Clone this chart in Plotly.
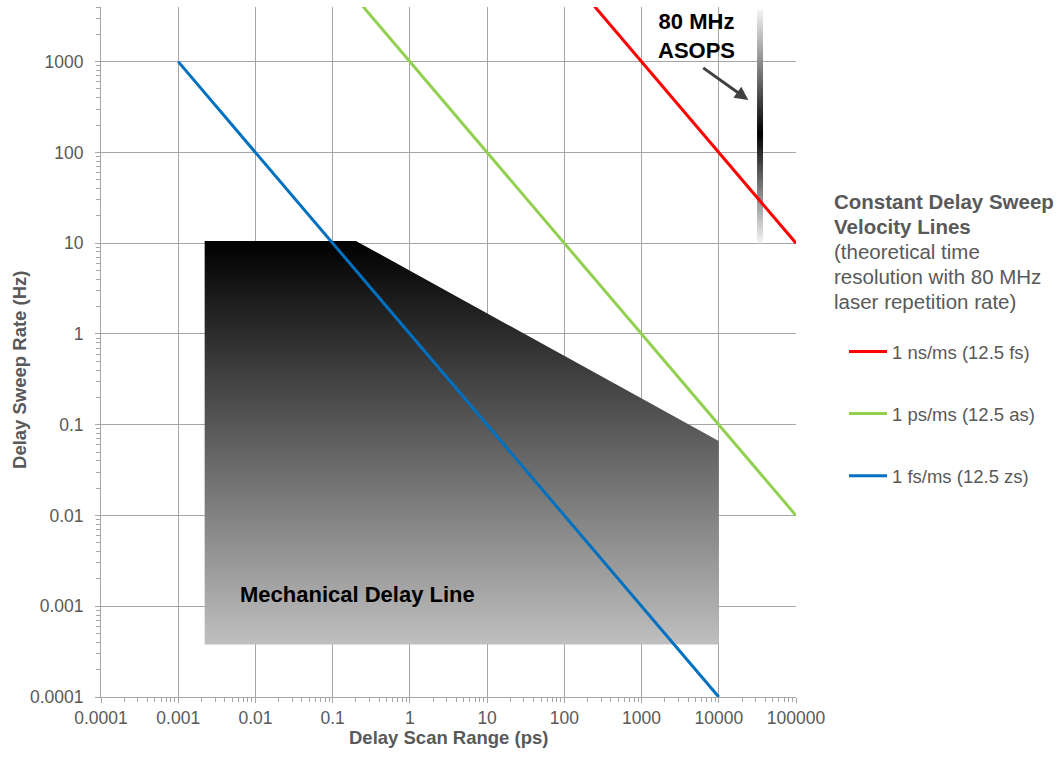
import numpy as np
import plotly.graph_objects as go

# Axis ticks (log scales)
x_tick_vals = [1e-4, 1e-3, 1e-2, 1e-1, 1, 10, 100, 1000, 10000, 100000]
x_tick_text = ["0.0001", "0.001", "0.01", "0.1", "1", "10", "100", "1000", "10000", "100000"]
y_tick_vals = [1e-4, 1e-3, 1e-2, 1e-1, 1, 10, 100, 1000]
y_tick_text = ["0.0001", "0.001", "0.01", "0.1", "1", "10", "100", "1000"]

# Constant delay sweep velocity lines: scan range (ps) vs sweep rate (Hz)
velocity_names = ["1 ns/ms (12.5 fs)", "1 ps/ms (12.5 as)", "1 fs/ms (12.5 zs)"]
velocity_colors = ["#ff0000", "#92d050", "#0070c0"]
ns_line_x = [100, 100000]
ns_line_y = [10000, 10]
ps_line_x = [0.1, 100000]
ps_line_y = [10000, 0.01]
fs_line_x = [0.001, 10000]
fs_line_y = [1000, 0.0001]

# Mechanical delay line operating region
mech_x = [0.0022, 0.2, 10000, 10000, 0.0022]
mech_y = [10.6, 10.6, 0.066, 0.00038, 0.00038]

# 80 MHz ASOPS band
asops_x = [31300, 37400, 37400, 31300]
asops_y = [10, 10, 3750, 3750]

GRID = "#a6a6a6"
TEXT = "#595959"
FONT = "Arial, Liberation Sans, sans-serif"

fig = go.Figure()

fig.add_trace(go.Scatter(
    x=mech_x, y=mech_y, mode="lines", fill="toself",
    line=dict(width=0, color="rgba(0,0,0,0)"),
    fillgradient=dict(type="vertical", colorscale=[[0, "#bfbfbf"], [1, "#000000"]]),
    showlegend=False, hoverinfo="skip",
))

fig.add_trace(go.Scatter(
    x=asops_x, y=asops_y, mode="lines", fill="toself",
    line=dict(width=0, color="rgba(0,0,0,0)"),
    fillgradient=dict(type="vertical",
                      colorscale=[[0, "#f4f4f4"], [0.47, "#000000"], [1, "#f4f4f4"]]),
    showlegend=False, hoverinfo="skip",
))

for name, color, xs, ys in zip(
        velocity_names, velocity_colors,
        [ns_line_x, ps_line_x, fs_line_x], [ns_line_y, ps_line_y, fs_line_y]):
    fig.add_trace(go.Scatter(
        x=xs, y=ys, mode="lines", name=name, legendgroup=name,
        line=dict(color=color, width=3),
    ))

axis_common = dict(
    type="log", showgrid=True, gridcolor=GRID, gridwidth=1,
    showline=True, linecolor=GRID, linewidth=1,
    ticks="outside", ticklen=5, tickcolor=GRID,
    tickfont=dict(size=17.5, color=TEXT, family=FONT),
    zeroline=False, tickmode="array",
    minor=dict(dtick="D1", ticks="outside", ticklen=4, tickcolor=GRID, showgrid=False),
)

fig.update_xaxes(range=[-4, 5], tickvals=x_tick_vals, ticktext=x_tick_text, **axis_common)
fig.update_yaxes(range=[-4, np.log10(4000)], tickvals=y_tick_vals, ticktext=y_tick_text,
                 ticklabelstandoff=8, **axis_common)

annotations = [
    dict(text="<b>Delay Scan Range (ps)</b>", xref="paper", yref="paper",
         x=0.5, y=-0.0594, xanchor="center", yanchor="middle", showarrow=False,
         font=dict(size=18.5, color=TEXT, family=FONT)),
    dict(text="<b>Delay Sweep Rate (Hz)</b>", xref="paper", yref="paper",
         x=-0.1165, y=0.474, xanchor="center", yanchor="middle", showarrow=False,
         textangle=-90, font=dict(size=18.5, color=TEXT, family=FONT)),
    dict(text="<b>Mechanical Delay Line</b>", xref="x", yref="y",
         x=np.log10(0.21), y=np.log10(0.00133), xanchor="center", yanchor="middle",
         showarrow=False, font=dict(size=22, color="#000000", family=FONT)),
    dict(text="<b>80 MHz<br>ASOPS</b>", xref="x", yref="y",
         x=np.log10(5070), y=np.log10(1915), xanchor="center", yanchor="middle",
         showarrow=False, font=dict(size=22, color="#000000", family=FONT)),
    dict(text="", xref="x", yref="y", x=np.log10(24150), y=np.log10(377),
         ax=-46.6, ay=-33.3, showarrow=True, arrowhead=2, arrowsize=0.9,
         arrowwidth=3, arrowcolor="#404040"),
]

legend_title_lines = [
    "<b>Constant Delay Sweep</b>",
    "<b>Velocity Lines</b>",
    "(theoretical time",
    "resolution with 80 MHz",
    "laser repetition rate)",
]
for i, line in enumerate(legend_title_lines):
    y_px = 201 + 25 * i
    annotations.append(dict(
        text=line, xref="paper", yref="paper",
        x=(832 - 101) / 695, y=(697 - y_px) / 690,
        xanchor="left", yanchor="middle", showarrow=False,
        font=dict(size=20.5, color=TEXT, family=FONT)))

fig.update_layout(
    width=1060, height=759,
    margin=dict(l=101, r=264, t=7, b=62),
    plot_bgcolor="white", paper_bgcolor="white",
    font=dict(family=FONT, color=TEXT),
    showlegend=True,
    legend=dict(x=(844 - 101) / 695, y=(697 - 333) / 690, xanchor="left", yanchor="top",
                font=dict(size=18.5, color=TEXT, family=FONT),
                tracegroupgap=35, itemwidth=38, bgcolor="rgba(0,0,0,0)",
                traceorder="grouped"),
    annotations=annotations,
)

fig.write_html("out.html")
